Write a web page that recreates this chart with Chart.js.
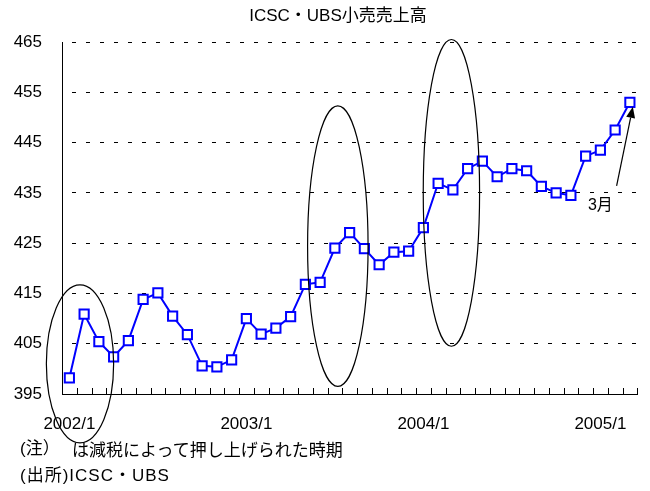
<!DOCTYPE html>
<html>
<head>
<meta charset="utf-8">
<script src="https://cdn.jsdelivr.net/npm/chart.js@4/dist/chart.umd.min.js"></script>
<style>
  html, body { margin: 0; padding: 0; background: #fff; }
  #wrap { position: relative; width: 650px; height: 491px; overflow: hidden; }
  #c { position: absolute; left: 0; top: 0; }
  .txt { position: absolute; white-space: nowrap; color: #000; font-family: "Liberation Sans", "Noto Sans CJK JP", sans-serif; line-height: 20px; }
  #title { left: 338px; top: 6px; transform: translateX(-50%); font-size: 17px; }
  #note1 { left: 20px; top: 439px; font-size: 17px; }
  #note1b { left: 72px; top: 439px; font-size: 17px; font-family: "Noto Sans CJK JP", sans-serif; }
  #note2 { left: 20px; top: 466px; font-size: 17px; letter-spacing: 1px; }
</style>
</head>
<body>
<div id="wrap">
  <canvas id="c" width="650" height="491"></canvas>
  <div class="txt" id="title">ICSC・UBS小売売上高</div>
  <div class="txt" id="note1">(注）</div>
  <div class="txt" id="note1b">は減税によって押し上げられた時期</div>
  <div class="txt" id="note2">(出所)ICSC・UBS</div>
</div>
<script>
// ---- data ----
const categories = [
  '2002/1','2002/2','2002/3','2002/4','2002/5','2002/6','2002/7','2002/8','2002/9','2002/10','2002/11','2002/12',
  '2003/1','2003/2','2003/3','2003/4','2003/5','2003/6','2003/7','2003/8','2003/9','2003/10','2003/11','2003/12',
  '2004/1','2004/2','2004/3','2004/4','2004/5','2004/6','2004/7','2004/8','2004/9','2004/10','2004/11','2004/12',
  '2005/1','2005/2','2005/3'
];
const sales = [
  398.2, 410.9, 405.4, 402.4, 405.6, 413.8, 415.1, 410.5, 406.8, 400.6, 400.4, 401.8,
  410.0, 406.9, 408.1, 410.4, 416.8, 417.2, 424.0, 427.1, 423.9, 420.7, 423.2, 423.4,
  428.1, 436.9, 435.6, 439.8, 441.3, 438.2, 439.8, 439.4, 436.3, 435.0, 434.5, 442.3,
  443.5, 447.5, 453.0
];
const yMin = 395, yMax = 465, yStep = 10;
const xTickLabels = ['2002/1', '2003/1', '2004/1', '2005/1'];

// annotation highlights (tax-cut periods), in data units: category index / value
const highlightCenters = [0.72, 18.2, 25.9];
const highlightValues  = [401.0, 424.4, 435.0];
const highlightHalfW   = [2.28, 2.05, 1.91];
const highlightHalfH   = [15.7, 27.9, 30.5];
const arrowFrom = [37.1, 436.4];
const arrowTo   = [38.2, 452.1];
const arrowLabel = '3月';
const arrowLabelAt = [36.0, 432.4];

const annotPlugin = {
  id: 'annot',
  afterDraw(chart) {
    const ctx = chart.ctx;
    const xs = chart.scales.x, ys = chart.scales.y;
    const step = xs.getPixelForValue(1) - xs.getPixelForValue(0);
    const ca = chart.chartArea;
    ctx.save();
    // inward tick marks on x axis at category boundaries
    ctx.strokeStyle = '#000';
    ctx.lineWidth = 1;
    ctx.beginPath();
    for (let i = 0; i <= categories.length; i++) {
      const x = Math.round(xs.getPixelForValue(0) - step / 2 + i * step) + 0.5;
      ctx.moveTo(x, ca.bottom);
      ctx.lineTo(x, ca.bottom - 6);
    }
    ctx.stroke();
    // ellipses
    ctx.lineWidth = 1.2;
    for (let k = 0; k < highlightCenters.length; k++) {
      const cx = xs.getPixelForValue(0) + highlightCenters[k] * step;
      const cy = ys.getPixelForValue(highlightValues[k]);
      const rx = highlightHalfW[k] * step;
      const ry = Math.abs(ys.getPixelForValue(highlightValues[k] + highlightHalfH[k]) - cy);
      ctx.beginPath();
      ctx.ellipse(cx, cy, rx, ry, 0, 0, Math.PI * 2);
      ctx.stroke();
    }
    // arrow
    const x1 = xs.getPixelForValue(0) + arrowFrom[0] * step, y1 = ys.getPixelForValue(arrowFrom[1]);
    const x2 = xs.getPixelForValue(0) + arrowTo[0] * step, y2 = ys.getPixelForValue(arrowTo[1]);
    const ang = Math.atan2(y2 - y1, x2 - x1);
    const hl = 11, hw = 4.5;
    const bx = x2 - hl * Math.cos(ang), by = y2 - hl * Math.sin(ang);
    ctx.beginPath();
    ctx.moveTo(x1, y1);
    ctx.lineTo(bx, by);
    ctx.stroke();
    ctx.fillStyle = '#000';
    ctx.beginPath();
    ctx.moveTo(x2, y2);
    ctx.lineTo(bx + hw * Math.sin(ang), by - hw * Math.cos(ang));
    ctx.lineTo(bx - hw * Math.sin(ang), by + hw * Math.cos(ang));
    ctx.closePath();
    ctx.fill();
    // arrow label
    ctx.font = '16px "Liberation Sans", "Noto Sans CJK JP", sans-serif';
    ctx.textAlign = 'center';
    ctx.textBaseline = 'middle';
    ctx.fillText(arrowLabel, xs.getPixelForValue(0) + arrowLabelAt[0] * step, ys.getPixelForValue(arrowLabelAt[1]));
    ctx.restore();
  }
};

new Chart(document.getElementById('c'), {
  type: 'line',
  data: {
    labels: categories,
    datasets: [{
      data: sales,
      borderColor: '#0000ff',
      borderWidth: 2,
      pointStyle: 'rect',
      pointRadius: 6.5,
      pointBorderWidth: 2,
      pointBorderColor: '#0000ff',
      pointBackgroundColor: '#ffffff',
      tension: 0,
      clip: false
    }]
  },
  options: {
    responsive: false,
    animation: false,
    devicePixelRatio: 1,
    layout: { padding: { top: 42, right: 7, left: 0, bottom: 0 } },
    plugins: { legend: { display: false }, title: { display: false }, tooltip: { enabled: false } },
    scales: {
      x: {
        type: 'category',
        offset: true,
        grid: { display: false, drawTicks: false },
        border: { display: true, color: '#000', width: 1 },
        ticks: {
          autoSkip: false,
          maxRotation: 0,
          padding: 20,
          color: '#000',
          font: { family: '"Liberation Sans", sans-serif', size: 17 },
          callback: function (v, i) { return xTickLabels.includes(categories[i]) ? categories[i] : ''; }
        },
        afterFit: s => { s.height = 97; }
      },
      y: {
        min: yMin,
        max: yMax,
        grid: {
          color: '#000',
          lineWidth: 1,
          drawTicks: false
        },
        border: { display: true, color: '#000', width: 1, dash: [4, 10], dashOffset: 5 },
        ticks: {
          stepSize: yStep,
          padding: 20,
          color: '#000',
          font: { family: '"Liberation Sans", sans-serif', size: 17 }
        },
        afterFit: s => { s.width = 62; }
      }
    }
  },
  plugins: [annotPlugin]
});
</script>
</body>
</html>
